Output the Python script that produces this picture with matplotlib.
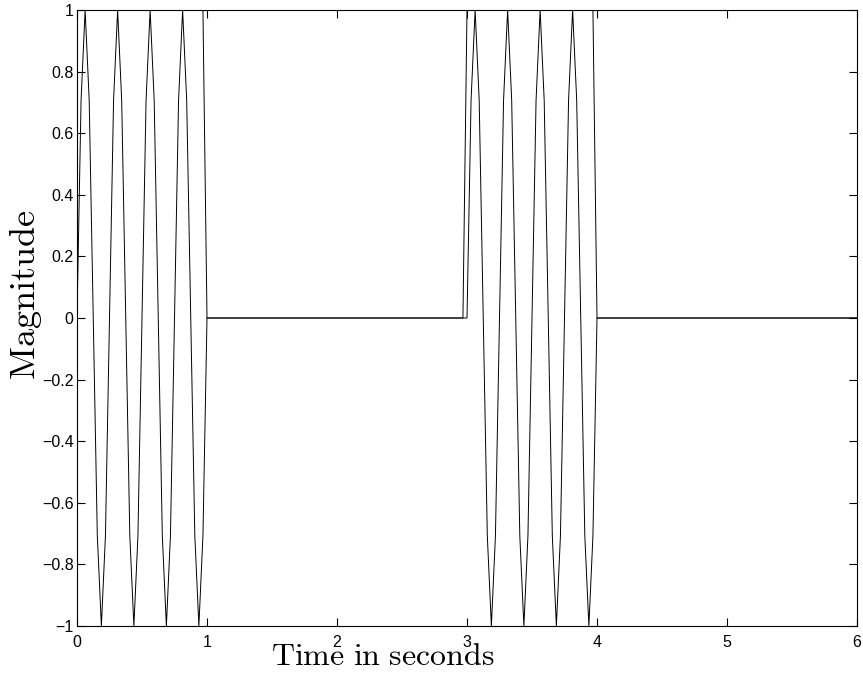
import numpy as np
import matplotlib
matplotlib.use("Agg")
import matplotlib.pyplot as plt
from matplotlib.ticker import FuncFormatter

plt.rcParams['mathtext.fontset'] = 'cm'
plt.rcParams['font.family'] = ['Liberation Sans', 'DejaVu Sans']

# one burst of the 4 Hz sine, sampled at 32 samples per second (33 samples, 0..1 s)
burst = [0, 0.707, 1, 0.707, 0, -0.707, -1, -0.707,
         0, 0.707, 1, 0.707, 0, -0.707, -1, -0.707,
         0, 0.707, 1, 0.707, 0, -0.707, -1, -0.707,
         0, 0.707, 1, 0.707, 0, -0.707, -1, -0.707, 0]
burst_starts = [0, 3]
fs = 32
t_end = 6

# rectangular window (sampled), breakpoints
pulse_t = [0, 0.96875, 1.0, 2.96875, 3.0, 3.96875, 4.0, 6.0]
pulse_v = [1, 1, 0, 0, 1, 1, 0, 0]

xticks = [0, 1, 2, 3, 4, 5, 6]
yticks = [-1, -0.8, -0.6, -0.4, -0.2, 0, 0.2, 0.4, 0.6, 0.8, 1]

sig_t = []
sig_v = []
for s in burst_starts:
    sig_t += list(s + np.arange(len(burst)) / fs)
    sig_v += burst
sig_t.append(t_end)
sig_v.append(0)

W, H = 863, 684
fig = plt.figure(figsize=(W / 100, H / 100), dpi=100)
ax = fig.add_axes([77 / W, 58 / H, 780 / W, 616 / H])

ax.plot(pulse_t, pulse_v, color='black', lw=0.7)
ax.plot(sig_t, sig_v, color='black', lw=0.7)

ax.set_xlim(0, 6)
ax.set_ylim(-1, 1)
ax.set_xticks(xticks)
ax.set_yticks(yticks)
fmt = FuncFormatter(lambda v, p: f'{v:g}'.replace('-', '\u2212'))
ax.xaxis.set_major_formatter(fmt)
ax.yaxis.set_major_formatter(fmt)
ax.tick_params(direction='in', top=True, right=True, length=5.5, width=0.8,
               labelsize=11.5)
ax.tick_params(axis='y', pad=2.5)
ax.tick_params(axis='x', pad=6.5)
for sp in ax.spines.values():
    sp.set_linewidth(0.8)

# axis labels, placed where the reference has them
fig.text(383 / W, 19 / H, r'$\mathrm{Time\ in\ seconds}$', fontsize=23,
         ha='center', va='baseline')
fig.text(25 / W, (H - 295) / H, r'$\mathrm{Magnitude}$', fontsize=26,
         ha='center', va='center', rotation=90)

fig.savefig('out.png', dpi=100)
